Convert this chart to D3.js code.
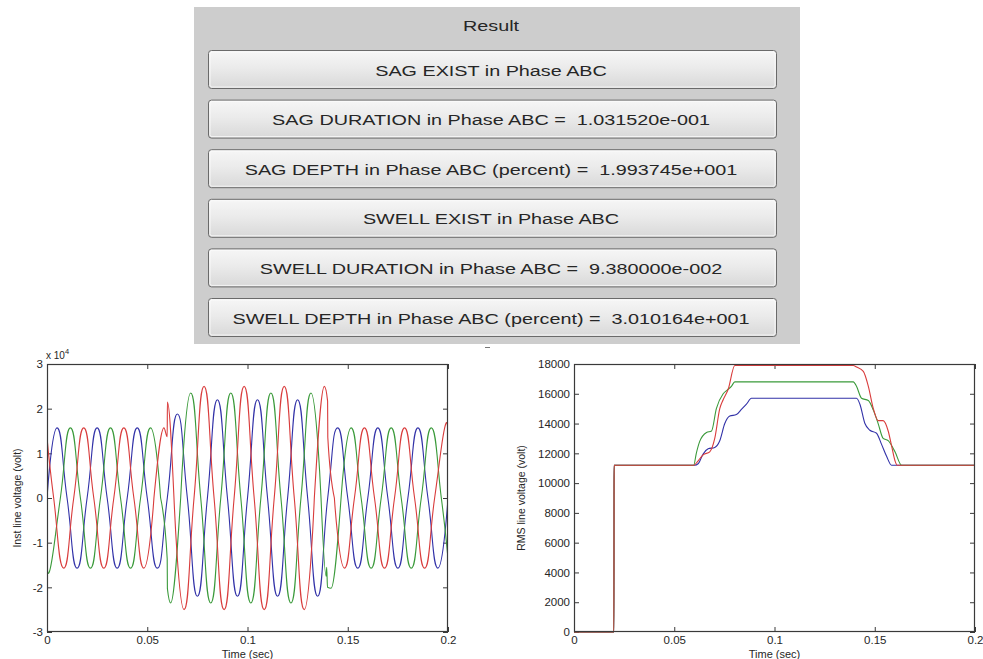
<!DOCTYPE html>
<html><head><meta charset="utf-8">
<script src="https://cdn.jsdelivr.net/npm/d3@7"></script>
<style>
html,body{margin:0;padding:0;background:#fff;}
svg{display:block;font-family:"Liberation Sans",Arial,Helvetica,sans-serif;}
.pre{white-space:pre;}
</style></head><body>
<svg id="c" width="983" height="659"></svg>
<script>
// ---------------- DATA ----------------
const resultTitle = "Result";
const resultLines = [
  "SAG EXIST in Phase ABC",
  "SAG DURATION in Phase ABC =  1.031520e-001",
  "SAG DEPTH in Phase ABC (percent) =  1.993745e+001",
  "SWELL EXIST in Phase ABC",
  "SWELL DURATION in Phase ABC =  9.380000e-002",
  "SWELL DEPTH in Phase ABC (percent) =  3.010164e+001"
];
const timeTicks = [0, 0.05, 0.1, 0.15, 0.2];
const timeTickLabels = ["0", "0.05", "0.1", "0.15", "0.2"];
const instTicks = [-3, -2, -1, 0, 1, 2, 3];
const rmsTicks = [0, 2000, 4000, 6000, 8000, 10000, 12000, 14000, 16000, 18000];
const instLabel = "Inst line voltage (volt)";
const rmsLabel = "RMS line voltage (volt)";
const timeLabel = "Time (sec)";
const instExponent = "4";

// Instantaneous line voltages (units of 1e4 V): extrema and zero crossings [t, v]
// smooth runs (sinusoidal parts) and transition runs (around the disturbances)
const blueSmooth = [[
  [0,0],[0.005,1.57],[0.01,0],[0.015,-1.57],[0.02,0],[0.025,1.57],[0.03,0],[0.035,-1.57],
  [0.04,0],[0.045,1.57],[0.05,0],[0.055,-1.57],[0.06,0],[0.065,1.88],[0.07,0],[0.075,-2.2],
  [0.08,0],[0.085,2.2],[0.09,0],[0.095,-2.2],[0.1,0],[0.105,2.2],[0.11,0],[0.115,-2.2],
  [0.12,0],[0.125,2.2],[0.13,0],[0.135,-2.2],[0.14,0],[0.145,1.57],[0.15,0],[0.155,-1.57],
  [0.16,0],[0.165,1.57],[0.17,0],[0.175,-1.57],[0.18,0],[0.185,1.57],[0.19,0],[0.195,-1.57],[0.2,0]
]];
const blueKinks = [];

const greenSmooth = [
  [[0,-1.36],[0.00167,-1.57],[0.00667,0],[0.01167,1.57],[0.01667,0],[0.02167,-1.57],[0.02667,0],
   [0.03167,1.57],[0.03667,0],[0.04167,-1.57],[0.04667,0],[0.05167,1.57],[0.05667,0]],
  [[0.06667,0],[0.07167,2.35],[0.07667,0],[0.08167,-2.35],[0.08667,0],[0.09167,2.35],[0.09667,0],
   [0.10167,-2.35],[0.10667,0],[0.11167,2.35],[0.11667,0],[0.12167,-2.35],[0.12667,0],[0.13167,2.35],[0.13667,0]],
  [[0.14667,0],[0.15167,1.57],[0.15667,0],[0.16167,-1.57],[0.16667,0],[0.17167,1.57],[0.17667,0],
   [0.18167,-1.57],[0.18667,0],[0.19167,1.57],[0.19667,0],[0.2,-1.36]]
];
const greenKinks = [
  [[0.05667,0],[0.05995,-1.36],[0.06005,-2.03],[0.06167,-2.35],[0.06667,0]],
  [[0.13667,0],[0.1392,-1.75],[0.1395,-1.55],[0.1399,-2.0],[0.14167,-2.02],[0.14667,0]]
];

const redSmooth = [
  [[0,1.36],[0.00333,0],[0.00833,-1.57],[0.01333,0],[0.01833,1.57],[0.02333,0],[0.02833,-1.57],
   [0.03333,0],[0.03833,1.57],[0.04333,0],[0.04833,-1.57],[0.05333,0]],
  [[0.06333,0],[0.06833,-2.5],[0.07333,0],[0.07833,2.5],[0.08333,0],[0.08833,-2.5],
   [0.09333,0],[0.09833,2.5],[0.10333,0],[0.10833,-2.5],[0.11333,0],[0.11833,2.5],[0.12333,0],
   [0.12833,-2.5],[0.13333,0]],
  [[0.14333,0],[0.14833,-1.57],[0.15333,0],[0.15833,1.57],[0.16333,0],[0.16833,-1.57],
   [0.17333,0],[0.17833,1.57],[0.18333,0],[0.18833,-1.57],[0.19333,0],[0.19833,1.57],[0.2,1.36]]
];
const redKinks = [
  [[0.05333,0],[0.05833,1.57],[0.05995,1.37],[0.06005,2.15],[0.06333,0]],
  [[0.13333,0],[0.13833,2.5],[0.13995,2.17],[0.14005,1.36],[0.14333,0]]
];

// RMS line voltages (V) [t, v]
const rmsBlue = [
  [0,0],[0.0199,0],[0.02,11200],[0.0602,11200],[0.0619,11300],[0.0644,11950],[0.0669,12300],[0.0702,12400],
  [0.0727,12850],[0.0752,14000],[0.0777,14500],[0.081,14600],[0.0835,14950],[0.086,15300],[0.0885,15700],
  [0.1409,15700],[0.1426,15300],[0.1451,14000],[0.1476,13550],[0.1509,13350],[0.1534,12600],[0.1559,11800],
  [0.1584,11200],[0.2,11200]
];
const rmsGreen = [
  [0,0],[0.0199,0],[0.02,11200],[0.0597,11200],[0.061,12000],[0.0627,12800],[0.0661,13400],[0.0686,13500],
  [0.071,15000],[0.0744,16000],[0.0764,16250],[0.0785,16500],[0.0802,16800],[0.1393,16800],[0.1409,16500],
  [0.1434,15700],[0.1468,15550],[0.1493,14900],[0.1517,14000],[0.1542,13000],[0.1567,12850],[0.1601,12100],
  [0.1634,11200],[0.2,11200]
];
const rmsRed = [
  [0,0],[0.0199,0],[0.02,11200],[0.0597,11200],[0.0619,11500],[0.0644,11900],[0.0677,12100],[0.0702,13000],
  [0.0727,15000],[0.0744,15600],[0.0769,16300],[0.0802,17900],[0.1393,17900],[0.1409,17800],[0.1443,17500],
  [0.1468,16500],[0.1493,15000],[0.1517,14200],[0.1542,14200],[0.1567,13500],[0.1584,12500],[0.1601,11500],
  [0.1612,11200],[0.2,11200]
];

// ---------------- DRAWING ----------------
const svg = d3.select("#c");
const C = {blue:"#3232a8", green:"#3a9a3a", red:"#d93c3c"};
const axisCol = "#3a3a3a", textCol = "#262626";
const panelStretch = 1.32;

const defs = svg.append("defs");
const grad = defs.append("linearGradient").attr("id","btn").attr("x1",0).attr("y1",0).attr("x2",0).attr("y2",1);
grad.append("stop").attr("offset","0%").attr("stop-color","#f6f6f6");
grad.append("stop").attr("offset","45%").attr("stop-color","#ebebeb");
grad.append("stop").attr("offset","100%").attr("stop-color","#d8d8d8");

// ---- Result panel ----
const panel = {x:194, y:7, w:606, h:337};
svg.append("rect").attr("x",panel.x).attr("y",panel.y).attr("width",panel.w).attr("height",panel.h).attr("fill","#cdcdcd");
svg.append("text").attr("transform",`translate(491,31) scale(${panelStretch},1)`).attr("text-anchor","middle")
  .attr("font-size",15).attr("fill",textCol).text(resultTitle);

const btnX = 208, btnW = 568, btnH = 38, btnTop = 50, btnStep = 49.6;
const btnScale = d3.scaleLinear().domain([0, resultLines.length-1]).range([btnTop, btnTop + btnStep*(resultLines.length-1)]);
const btns = svg.append("g").selectAll("g").data(resultLines).join("g")
  .attr("transform",(d,i)=>`translate(${btnX},${btnScale(i)})`);
btns.append("rect").attr("x",0.5).attr("y",0.5).attr("width",btnW).attr("height",btnH)
  .attr("rx",3).attr("fill","url(#btn)").attr("stroke","#6a6a6a").attr("stroke-width",1);
btns.append("rect").attr("x",2).attr("y",2).attr("width",btnW-3).attr("height",btnH-3)
  .attr("rx",2).attr("fill","none").attr("stroke","#fbfbfb").attr("stroke-width",1).attr("opacity",0.8);
btns.append("text").attr("class","pre")
  .attr("transform",`translate(${491-btnX},25.5) scale(${panelStretch},1)`)
  .attr("text-anchor","middle").attr("font-size",15).attr("fill",textCol).text(d=>d);
svg.append("line").attr("x1",485).attr("x2",490).attr("y1",347.5).attr("y2",347.5).attr("stroke","#777");

// ---- generic MATLAB-like axes ----
function makeAxes(box, yDomain, yTicks, yFmt, yLabel, yLabelX) {
  const x = d3.scaleLinear().domain([0,0.2]).range([box.x0, box.x1]);
  const y = d3.scaleLinear().domain(yDomain).range([box.y1, box.y0]);
  const g = svg.append("g");
  g.append("rect").attr("x",box.x0).attr("y",box.y0).attr("width",box.x1-box.x0).attr("height",box.y1-box.y0).attr("fill","#fff");
  const clipId = "clip"+box.x0;
  defs.append("clipPath").attr("id",clipId).append("rect")
    .attr("x",box.x0).attr("y",box.y0-1).attr("width",box.x1-box.x0).attr("height",box.y1-box.y0+2);
  const style = sel => {
    sel.select(".domain").remove();
    sel.selectAll("line").attr("stroke",axisCol);
    sel.selectAll("text").attr("fill",textCol).attr("font-size",11.5).attr("font-family","'Liberation Sans',Arial,sans-serif");
  };
  g.append("g").attr("transform",`translate(0,${box.y1})`)
    .call(d3.axisBottom(x).tickValues(timeTicks).tickFormat((d,i)=>timeTickLabels[i]).tickSizeInner(-5).tickSizeOuter(0).tickPadding(4)).call(style);
  g.append("g").attr("transform",`translate(0,${box.y0})`)
    .call(d3.axisTop(x).tickValues(timeTicks).tickFormat("").tickSizeInner(-5).tickSizeOuter(0)).call(style);
  g.append("g").attr("transform",`translate(${box.x0},0)`)
    .call(d3.axisLeft(y).tickValues(yTicks).tickFormat(yFmt).tickSizeInner(-5).tickSizeOuter(0).tickPadding(4)).call(style);
  g.append("g").attr("transform",`translate(${box.x1},0)`)
    .call(d3.axisRight(y).tickValues(yTicks).tickFormat("").tickSizeInner(-5).tickSizeOuter(0)).call(style);
  const plot = g.append("g").attr("clip-path",`url(#${clipId})`);
  g.append("rect").attr("x",box.x0+0.5).attr("y",box.y0+0.5).attr("width",box.x1-box.x0-1).attr("height",box.y1-box.y0-1)
    .attr("fill","none").attr("stroke",axisCol).attr("stroke-width",1.2);
  g.append("text").attr("x",(box.x0+box.x1)/2).attr("y",658).attr("text-anchor","middle")
    .attr("font-size",11).attr("fill",textCol).text(timeLabel);
  g.append("text").attr("transform",`translate(${yLabelX},${(box.y0+box.y1)/2}) rotate(-90)`)
    .attr("text-anchor","middle").attr("font-size",10.5).attr("fill",textCol).text(yLabel);
  return {x, y, plot};
}

// ---- left: instantaneous ----
const L = makeAxes({x0:47, x1:448, y0:364, y1:632}, [-3,3], instTicks, d=>String(d), instLabel, 21);
const ex = svg.append("text").attr("x",46).attr("y",358.5).attr("font-size",10).attr("fill",textCol);
ex.append("tspan").text("x 10");
ex.append("tspan").attr("dy",-5).attr("font-size",7.5).text(instExponent);

const smoothLineL = d3.line().x(d=>L.x(d[0])).y(d=>L.y(d[1])).curve(d3.curveCardinal.tension(-0.571));
const kinkLineL = d3.line().x(d=>L.x(d[0])).y(d=>L.y(d[1])).curve(d3.curveMonotoneX);
[[blueSmooth,blueKinks,C.blue],[greenSmooth,greenKinks,C.green],[redSmooth,redKinks,C.red]].forEach(([sm,kk,col])=>{
  sm.forEach(run=>L.plot.append("path").attr("d",smoothLineL(run)).attr("fill","none").attr("stroke",col).attr("stroke-width",1.1));
  kk.forEach(run=>L.plot.append("path").attr("d",kinkLineL(run)).attr("fill","none").attr("stroke",col).attr("stroke-width",1.1));
});

// ---- right: RMS ----
const R = makeAxes({x0:574, x1:975, y0:364, y1:632}, [0,18000], rmsTicks, d=>String(d), rmsLabel, 525);
const rmsLine = d3.line().x(d=>R.x(d[0])).y(d=>R.y(d[1])).curve(d3.curveMonotoneX);
[[rmsBlue,C.blue],[rmsGreen,C.green],[rmsRed,C.red]].forEach(([data,col])=>{
  R.plot.append("path").attr("d",rmsLine(data)).attr("fill","none").attr("stroke",col).attr("stroke-width",1.1);
});
</script>
</body></html>
